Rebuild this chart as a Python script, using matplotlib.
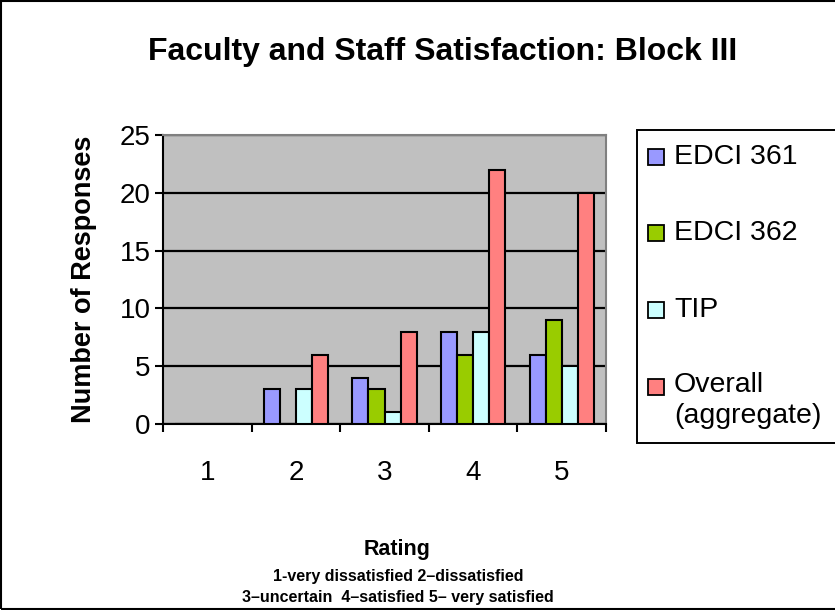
import numpy as np
import matplotlib.pyplot as plt
from matplotlib.patches import Rectangle

plt.rcParams['font.family'] = ['Liberation Sans', 'DejaVu Sans']

# date
ratings = ['1', '2', '3', '4', '5']
series = ['EDCI 361', 'EDCI 362', 'TIP', 'Overall\n(aggregate)']
edci361 = [0, 3, 4, 8, 6]
edci362 = [0, 0, 3, 6, 9]
tip = [0, 3, 1, 8, 5]
overall = [0, 6, 8, 22, 20]
colors = ['#9999FF', '#99CC00', '#CCFFFF', '#FF8080']

fig = plt.figure(figsize=(8.35, 6.1), dpi=100)
ax = fig.add_axes([163/835, 1 - 424/610, 443/835, 289/610])
ax.set_facecolor('#C0C0C0')

x = np.arange(1, 6)
w = 0.181
for i, (vals, c) in enumerate(zip([edci361, edci362, tip, overall], colors)):
    ax.bar(x + (i - 1.5) * w, vals, w, color=c, edgecolor='black', linewidth=1.5, zorder=3)

ax.set_xlim(0.5, 5.5)
ax.set_ylim(0, 25)
ax.set_yticks(range(0, 26, 5))
ax.yaxis.grid(True, color='black', linewidth=1.6, zorder=1)
ax.tick_params(axis='y', labelsize=20, length=6, width=1.5, direction='out', pad=3)
ax.set_xticks(x)
ax.set_xticklabels(ratings)
ax.set_xticks(np.arange(0.5, 6, 1), minor=True)
ax.tick_params(axis='x', which='major', length=0, labelsize=20, pad=26)
ax.tick_params(axis='x', which='minor', length=6, width=1.5, direction='out')
for s in ['left', 'bottom']:
    ax.spines[s].set_color('black')
    ax.spines[s].set_linewidth(1.5)
for s in ['top', 'right']:
    ax.spines[s].set_color('#808080')
    ax.spines[s].set_linewidth(1.5)

ax.set_ylabel('Number of Responses', fontsize=19.5, fontweight='bold', labelpad=16)

fig.text(443/835, 1 - 52/610, 'Faculty and Staff Satisfaction: Block III',
         ha='center', va='center', fontsize=23, fontweight='bold')
fig.text(397/835, 1 - 550/610, 'Rating', ha='center', va='center',
         fontsize=15.5, fontweight='bold')
fig.text(398/835, 1 - 587/610, '1-very dissatisfied 2–dissatisfied\n3–uncertain  4–satisfied 5– very satisfied',
         ha='center', va='center', fontsize=11.5, fontweight='bold', linespacing=1.45)

# legenda desenata manual
fig.patches.append(Rectangle((637/835, 1 - 443/610), 210/835, 313/610,
                             transform=fig.transFigure, facecolor='white',
                             edgecolor='black', linewidth=1.4))
ys = [157, 233, 310, 387]
for lab, c, yy in zip(series, colors, ys):
    fig.patches.append(Rectangle((648/835, 1 - (yy + 8)/610), 16/835, 16/610,
                                 transform=fig.transFigure, facecolor=c,
                                 edgecolor='black', linewidth=1.3))
    if '\n' in lab:
        fig.text(674/835, 1 - (yy - 15)/610, lab, ha='left', va='top',
                 fontsize=20.5, linespacing=1.25)
    else:
        fig.text(674/835, 1 - yy/610, lab, ha='left', va='center', fontsize=20.5)

# chenar exterior
fig.patches.append(Rectangle((0.001, 0.001), 1.2, 0.997, transform=fig.transFigure,
                             facecolor='none', edgecolor='black', linewidth=1.5))

fig.savefig('out.png', dpi=100)
